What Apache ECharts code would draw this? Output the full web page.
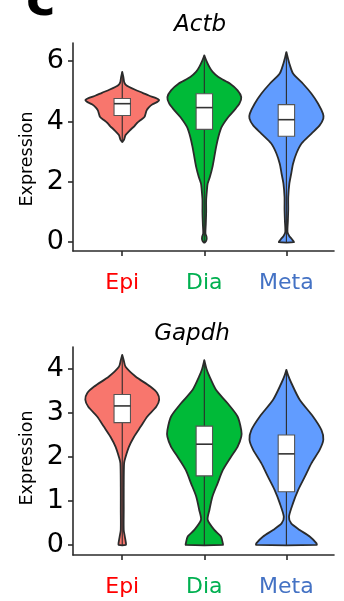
<!DOCTYPE html>
<html>
<head>
<meta charset="utf-8">
<script src="https://cdn.jsdelivr.net/npm/echarts@6/dist/echarts.min.js"></script>
<style>
html,body{margin:0;padding:0;background:#fff;}
#c{width:344px;height:601px;}
</style>
</head>
<body>
<div id="c"></div>
<script>
// ---- data ----
const categories = ['Epi', 'Dia', 'Meta'];
const labelColors = ['#FF0000', '#00B050', '#4472C4'];
const fillColors = ['#F8766D', '#00BA38', '#619CFF'];
const panelTitles = ['Actb', 'Gapdh'];
const yTicksActb = [0, 2, 4, 6];
const yTicksGapdh = [0, 1, 2, 3, 4];

// violin outlines: [expression, relative half-width (1 = widest)]
const actbEpi = [[3.32,0],[3.40,0.05],[3.55,0.09],[3.70,0.2],[3.85,0.33],[3.95,0.4],[4.05,0.5],[4.15,0.6],[4.25,0.63],[4.37,0.66],[4.47,0.72],[4.57,0.82],[4.65,0.95],[4.71,1.0],[4.78,0.9],[4.86,0.72],[4.95,0.55],[5.05,0.35],[5.14,0.19],[5.22,0.09],[5.32,0.05],[5.48,0.03],[5.64,0]];
const actbDia = [[0,0.02],[0.08,0.06],[0.18,0.06],[0.3,0.03],[0.6,0.04],[1.0,0.05],[1.4,0.05],[1.72,0.07],[1.94,0.09],[2.16,0.15],[2.49,0.22],[2.82,0.27],[3.16,0.32],[3.49,0.38],[3.82,0.47],[4.15,0.65],[4.37,0.81],[4.59,0.95],[4.81,1.0],[5.03,0.9],[5.25,0.7],[5.47,0.38],[5.65,0.22],[5.80,0.14],[6.0,0.06],[6.19,0]];
const actbMeta = [[0,0.2],[0.1,0.15],[0.2,0.08],[0.34,0.03],[0.7,0.04],[1.1,0.05],[1.5,0.05],[1.94,0.08],[2.27,0.13],[2.6,0.18],[2.94,0.27],[3.27,0.41],[3.6,0.68],[3.87,0.9],[4.1,1.0],[4.26,0.99],[4.59,0.86],[4.92,0.68],[5.25,0.45],[5.59,0.18],[5.92,0.08],[6.1,0.04],[6.3,0]];
const gapdhEpi = [[0,0.1],[0.04,0.1],[0.19,0.07],[0.34,0.04],[0.8,0.04],[1.3,0.04],[1.86,0.05],[2.0,0.09],[2.23,0.18],[2.46,0.32],[2.69,0.5],[2.92,0.68],[3.14,0.92],[3.3,1.0],[3.45,0.95],[3.6,0.76],[3.83,0.36],[4.05,0.09],[4.2,0.04],[4.32,0]];
const gapdhDia = [[0,0.5],[0.04,0.5],[0.19,0.45],[0.34,0.27],[0.57,0.09],[0.8,0.14],[1.1,0.22],[1.4,0.36],[1.7,0.5],[2.0,0.72],[2.23,0.9],[2.46,1.0],[2.61,1.0],[2.92,0.9],[3.22,0.63],[3.52,0.32],[3.83,0.14],[4.0,0.06],[4.2,0]];
const gapdhMeta = [[0,0.82],[0.04,0.81],[0.19,0.63],[0.34,0.36],[0.49,0.13],[0.64,0.07],[0.95,0.18],[1.25,0.32],[1.55,0.5],[1.86,0.68],[2.16,0.9],[2.39,1.0],[2.61,0.95],[2.92,0.72],[3.3,0.36],[3.67,0.14],[3.85,0.05],[3.98,0]];

// box statistics: [whisker low, q1, median, q3, whisker high]
const actbBox = [[3.32,4.2,4.59,4.76,5.64],[0,3.74,4.46,4.92,6.19],[0,3.51,4.06,4.56,6.3]];
const gapdhBox = [[0,2.78,3.16,3.42,4.32],[0,1.57,2.29,2.7,4.2],[0,1.21,2.07,2.5,3.98]];

const panels = [
  {violins:[actbEpi, actbDia, actbMeta], box: actbBox, ticks: yTicksActb, min:-0.29, max:6.6},
  {violins:[gapdhEpi, gapdhDia, gapdhMeta], box: gapdhBox, ticks: yTicksGapdh, min:-0.23, max:4.5}
];

const FONT = 'DejaVu Sans';
const HALF = 0.45;   // violin half width (category units)
const BOXH = 0.1;    // box half width
const LINE = '#2b2b2b';

const chart = echarts.init(document.getElementById('c'), null, {renderer:'canvas'});

const grids = [
  {left:73, width:261, top:43, height:208},
  {left:73, width:261, top:347, height:208}
];

const rich = {};
categories.forEach((c,i)=>{ rich['c'+i] = {color: labelColors[i], fontSize:22, fontFamily:FONT}; });

const xAxes = grids.map((g,gi)=>({
  type:'value', gridIndex:gi, min:0.4, max:3.58,
  splitLine:{show:false},
  axisLine:{show:true, onZero:false, lineStyle:{color:LINE, width:1.6}},
  axisTick:{show:true, customValues:[1,2,3], length:5, lineStyle:{color:LINE, width:1.6}},
  axisLabel:{customValues:[1,2,3], margin:21, rich:rich,
    formatter:(v)=>{const i=Math.round(v)-1; return '{c'+i+'|'+categories[i]+'}';}}
}));

const yAxes = panels.map((p,gi)=>({
  type:'value', gridIndex:gi, min:p.min, max:p.max,
  splitLine:{show:false},
  axisLine:{show:true, onZero:false, lineStyle:{color:LINE, width:1.6}},
  axisTick:{show:true, customValues:p.ticks, length:5, lineStyle:{color:LINE, width:1.6}},
  axisLabel:{customValues:p.ticks, margin:9, fontSize:27, color:'#000', fontFamily:FONT}
}));

function makeSeries(p, gi){
  return {
    type:'custom', xAxisIndex:gi, yAxisIndex:gi,
    data: categories.map((c,i)=>[i+1]),
    clip:false,
    renderItem:(params, api)=>{
      const i = params.dataIndex;
      const cx = i+1;
      const v = p.violins[i];
      const right = v.map(d=>api.coord([cx + d[1]*HALF, d[0]]));
      const left = v.slice().reverse().map(d=>api.coord([cx - d[1]*HALF, d[0]]));
      const pts = right.concat(left);
      const b = p.box[i];
      const lo = api.coord([cx, b[0]]), hi = api.coord([cx, b[4]]);
      const bl = api.coord([cx-BOXH, b[1]]), tr = api.coord([cx+BOXH, b[3]]);
      const ml = api.coord([cx-BOXH, b[2]]), mr = api.coord([cx+BOXH, b[2]]);
      return {type:'group', children:[
        {type:'polygon', shape:{points:pts, smooth:0.25},
          style:{fill:fillColors[i], stroke:LINE, lineWidth:1.8, lineJoin:'round'}},
        {type:'line', shape:{x1:lo[0], y1:lo[1], x2:hi[0], y2:hi[1]},
          style:{stroke:LINE, lineWidth:1.1}},
        {type:'rect', shape:{x:bl[0], y:tr[1], width:tr[0]-bl[0], height:bl[1]-tr[1]},
          style:{fill:'#ffffff', stroke:'#555555', lineWidth:1.1}},
        {type:'line', shape:{x1:ml[0], y1:ml[1], x2:mr[0], y2:mr[1]},
          style:{stroke:'#333333', lineWidth:1.6}}
      ]};
    }
  };
}

const option = {
  animation:false,
  backgroundColor:'#ffffff',
  grid: grids,
  xAxis: xAxes,
  yAxis: yAxes,
  series: panels.map(makeSeries),
  graphic: [
    {type:'text', left:26, top:-23, style:{text:'c', font:'bold 50px "DejaVu Sans"', fill:'#000'}},
    {type:'text', x:200, y:25, style:{text:panelTitles[0], font:'italic 23px "DejaVu Sans"', fill:'#000', textAlign:'center', textVerticalAlign:'middle'}},
    {type:'text', x:192, y:334, style:{text:panelTitles[1], font:'italic 23px "DejaVu Sans"', fill:'#000', textAlign:'center', textVerticalAlign:'middle'}},
    {type:'text', x:27, y:159, rotation:Math.PI/2, style:{text:'Expression', font:'17.5px "DejaVu Sans"', fill:'#000', textAlign:'center', textVerticalAlign:'middle'}},
    {type:'text', x:27, y:458, rotation:Math.PI/2, style:{text:'Expression', font:'17.5px "DejaVu Sans"', fill:'#000', textAlign:'center', textVerticalAlign:'middle'}}
  ]
};
chart.setOption(option);
</script>
</body>
</html>
